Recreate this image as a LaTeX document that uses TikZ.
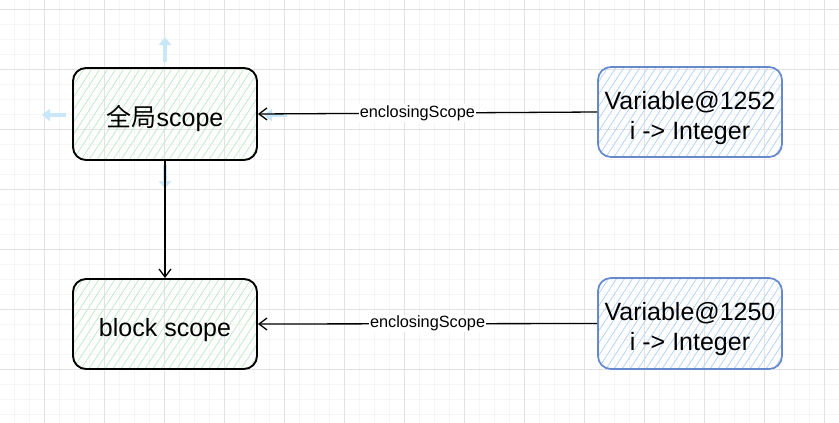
\documentclass[tikz,border=0pt]{standalone}
\usepackage{fontspec}
\setmainfont{Liberation Sans}
\newfontfamily\cjk{Noto Sans CJK SC}
\usetikzlibrary{arrows.meta}
\definecolor{gridmaj}{RGB}{226,226,226}
\definecolor{gridmin}{RGB}{245,245,245}
\definecolor{hatchgreen}{RGB}{195,235,203}
\definecolor{hatchblue}{RGB}{185,212,247}
\definecolor{blueline}{RGB}{100,138,205}
\definecolor{hoverblue}{RGB}{200,232,250}
\newcommand{\toplift}[1]{\rule{0pt}{#1}}
\begin{document}
\begin{tikzpicture}[x=1pt,y=-1pt,
  hatchfill/.style={path picture={
      \foreach \i in {-200,-192,...,220}
        \draw[#1,line width=0.8pt]
          ([xshift=\i pt]path picture bounding box.south west) -- ++(110,-170);}},
  boxtext/.style={font=\fontsize{25}{30}\selectfont,align=center,inner sep=0pt,
      minimum width=184pt,rounded corners=13pt},
  greenbox/.style={boxtext,draw=black,line width=1.9pt,hatchfill=hatchgreen},
  bluebox/.style={boxtext,draw=blueline,line width=1.7pt,hatchfill=hatchblue},
  conn/.style={draw=black,line width=1.3pt,-{Straight Barb[length=8pt,width=12pt,line width=1.3pt]}},
  lbl/.style={fill=white,inner sep=1pt,font=\fontsize{16.3}{19}\selectfont},
  hover/.style={draw=hoverblue,line width=3.5pt,-{Triangle[length=8pt,width=12pt]}}
]
\useasboundingbox (0,0) rectangle (839,423);
\fill[white] (0,0) rectangle (839,423);
% grid
\foreach \x in {14.3,29.3,...,839} \draw[gridmin,line width=0.8pt] (\x,0) -- (\x,423);
\foreach \y in {9.3,24.3,...,423} \draw[gridmin,line width=0.8pt] (0,\y) -- (839,\y);
\foreach \x in {44.3,104.3,...,839} \draw[gridmaj,line width=0.9pt] (\x,0) -- (\x,423);
\foreach \y in {9.3,69.3,...,423} \draw[gridmaj,line width=0.9pt] (0,\y) -- (839,\y);

% hover arrows around the selected box
\coordinate (hu1) at (165,62); \coordinate (hu2) at (165,37);
\coordinate (hl1) at (66,115); \coordinate (hl2) at (42,115);
\coordinate (hr1) at (264,115); \coordinate (hr2) at (287,115);
\coordinate (hd1) at (165,165); \coordinate (hd2) at (165,189);
\draw[hover] (hu1) -- (hu2);
\draw[hover] (hl1) -- (hl2);
\draw[hover] (hr2) -- (hr1);
\draw[hover] (hd1) -- (hd2);

% nodes
\node[greenbox,minimum height=92pt] (g) at (165,114) {\toplift{31pt}{\cjk 全局}scope};
\node[greenbox,minimum height=90pt] (b) at (165,324) {\toplift{31pt}block scope};
\node[bluebox,minimum height=90pt] (v1) at (690,112) {\toplift{30pt}Variable@1252\\i -> Integer};
\node[bluebox,minimum height=91pt] (v2) at (690,323.5) {\toplift{30pt}Variable@1250\\i -> Integer};

% connectors
\draw[conn] (v1.west) -- node[lbl,pos=0.53]{enclosingScope} (g.east);
\draw[conn] (v2.west) -- node[lbl,pos=0.5]{enclosingScope} (b.east);
\draw[conn] (g.south) -- (b.north);
\end{tikzpicture}
\end{document}
